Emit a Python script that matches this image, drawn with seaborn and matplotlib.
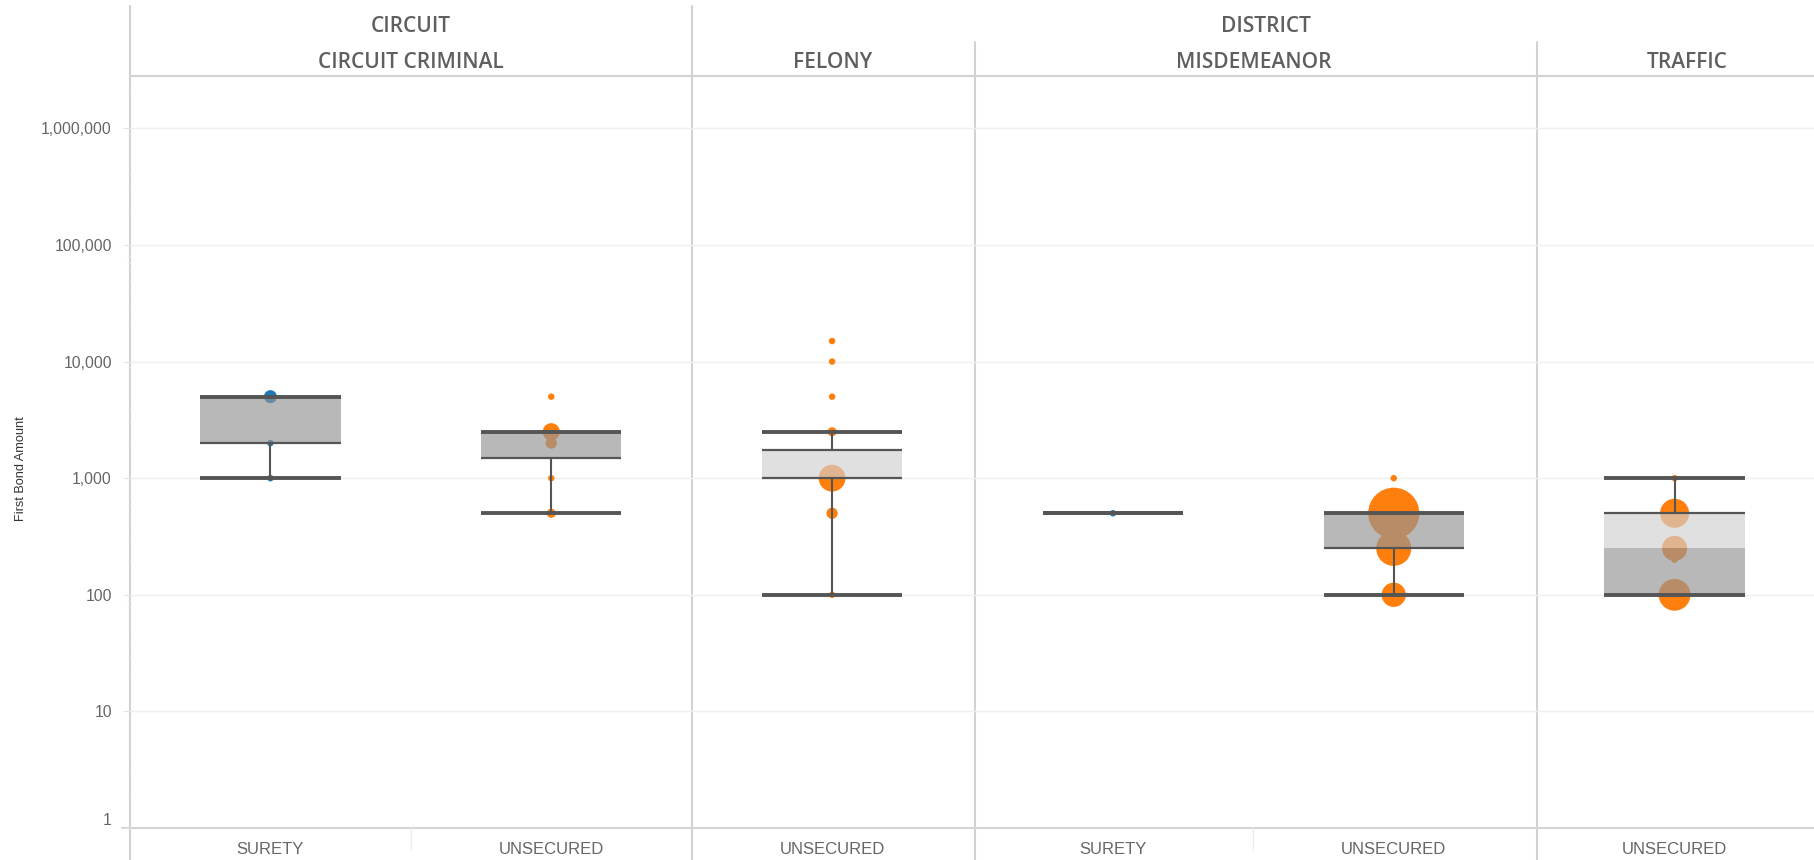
import numpy as np
import pandas as pd
import matplotlib
matplotlib.use("Agg")
import matplotlib.pyplot as plt
from matplotlib.lines import Line2D
from matplotlib.ticker import FixedLocator, NullFormatter, LogLocator
import seaborn as sns

# ---------------- data ----------------
categories = ["SURETY", "UNSECURED", "UNSECURED", "SURETY", "UNSECURED", "UNSECURED"]
cat_panel = [0, 0, 1, 2, 2, 3]
panel_names = ["CIRCUIT CRIMINAL", "FELONY", "MISDEMEANOR", "TRAFFIC"]
group_names = ["CIRCUIT", "DISTRICT"]
panel_group = [0, 1, 1, 1]

# box statistics per category
q1 = [2000, 1500, 1000, 500, 250, 100]
med = [5000, 2500, 1000, 500, 500, 250]
q3 = [5000, 2500, 1750, 500, 500, 500]
whis_lo = [1000, 500, 100, 500, 100, 100]
whis_hi = [5000, 2500, 2500, 500, 500, 1000]

# individual points (category index, amount, number of cases)
pt_cat = [0, 0, 0,
          1, 1, 1, 1, 1,
          2, 2, 2, 2, 2, 2, 2,
          3,
          4, 4, 4, 4,
          5, 5, 5, 5, 5]
pt_amount = [5000, 2000, 1000,
             5000, 2500, 2000, 1000, 500,
             15000, 10000, 5000, 2500, 1000, 500, 100,
             500,
             1000, 500, 250, 100,
             1000, 500, 250, 200, 100]
pt_count = [4, 1, 1,
            1, 7, 3, 1, 2,
            1, 1, 1, 2, 17, 3, 1,
            1,
            1, 62, 29, 14,
            1, 20, 15, 1, 24]

y_ticks = [1, 10, 100, 1000, 10000, 100000, 1000000]
y_label = "First Bond Amount"

# ---------------- styling ----------------
W, H = 1815, 860
sns.set_theme(style="white")
plt.rcParams["font.family"] = ["Liberation Sans", "DejaVu Sans"]

BLUE = "#1f77b4"
ORANGE = "#ff7f0e"
LINE = "#555555"
DIV = "#d2d2d2"
TXT = "#666666"

fig = plt.figure(figsize=(W / 100, H / 100), dpi=100)
fig.patch.set_facecolor("white")

L, R, T, B = 130, 1815, 76, 828
ax = fig.add_axes([L / W, (H - B) / H, (R - L) / W, (B - T) / H])
ax.patch.set_visible(False)
for s in ax.spines.values():
    s.set_visible(False)

ov = fig.add_axes([0, 0, 1, 1], zorder=-1)
ov.set_xlim(0, W)
ov.set_ylim(H, 0)
ov.axis("off")

# ---------------- points ----------------
df = pd.DataFrame({
    "pos": pt_cat,
    "amount": pt_amount,
    "count": pt_count,
    "bond": [categories[c] for c in pt_cat],
})
k = 21.9
sns.scatterplot(data=df, x="pos", y="amount", hue="bond",
                palette={"SURETY": BLUE, "UNSECURED": ORANGE},
                size="count", sizes=(k * 1, k * 64), size_norm=(1, 64),
                linewidth=0, legend=False, ax=ax, zorder=2)

# ---------------- boxes ----------------
pos = np.arange(len(categories))
bw = 0.5
dark_fill = (148 / 255,) * 3
light_fill = (209 / 255,) * 3
ax.bar(pos, np.array(med) - np.array(q1), bottom=q1, width=bw,
       color=dark_fill, alpha=0.66, linewidth=0, zorder=3)
ax.bar(pos, np.array(q3) - np.array(med), bottom=med, width=bw,
       color=light_fill, alpha=0.66, linewidth=0, zorder=3)
ax.vlines(pos, whis_lo, q1, color=LINE, lw=1.5, zorder=4)
ax.vlines(pos, q3, whis_hi, color=LINE, lw=1.5, zorder=4)
ax.hlines(q1, pos - bw / 2, pos + bw / 2, color=LINE, lw=1.6, zorder=4)
ax.hlines(q3, pos - bw / 2, pos + bw / 2, color=LINE, lw=1.6, zorder=4)
ax.hlines(whis_lo, pos - bw / 2, pos + bw / 2, color=LINE, lw=2.8, zorder=5)
ax.hlines(whis_hi, pos - bw / 2, pos + bw / 2, color=LINE, lw=2.8, zorder=5)

# ---------------- axes ----------------
ax.set_xlim(-0.5, len(categories) - 0.5)
ax.set_yscale("log")
ax.set_ylim(1, 10 ** 6.449)
ax.yaxis.set_major_locator(FixedLocator(y_ticks))
ax.yaxis.set_minor_locator(LogLocator(base=10, subs=np.arange(2, 10)))
ax.yaxis.set_minor_formatter(NullFormatter())
ax.set_yticks(y_ticks, [f"{v:,}" for v in y_ticks])
ax.tick_params(axis="y", which="major", length=5, color="#e4e4e4", width=0.8,
               pad=8, labelsize=11.3, labelcolor=TXT, left=True)
ax.tick_params(axis="y", which="minor", length=2.5, color="#ececec", width=0.6, left=True)
ax.grid(True, axis="y", which="major", color="#efefef", lw=1.0)
ax.grid(False, axis="x")
for t in ax.get_yticklabels():
    if t.get_text() == "1":
        t.set_va("bottom")
ax.set_xticks(pos, categories)
ax.tick_params(axis="x", length=0, pad=10, labelsize=12, labelcolor=TXT)
ax.set_xlabel("")
ax.set_ylabel(y_label, fontsize=9.2, color="#333333")
ax.yaxis.set_label_coords((27 - L) / (R - L), (B - 469) / (B - T))

# ---------------- frame / header ----------------
cw = (R - L) / len(categories)


def px(d):
    return L + (d + 0.5) * cw


def vline(x, y0, y1, c=DIV, lw=1.5):
    ov.add_line(Line2D([x, x], [y0, y1], color=c, lw=lw))


def hline(y, x0, x1, c=DIV, lw=1.5):
    ov.add_line(Line2D([x0, x1], [y, y], color=c, lw=lw))


vline(L, 6, H)
hline(T, L, W)
hline(B, 122, W)

# panel boundaries
for p in range(1, len(panel_names)):
    first = cat_panel.index(p)
    new_group = panel_group[p] != panel_group[p - 1]
    top = 6 if new_group else 42
    vline(px(first - 0.5) + (0 if new_group else 2.5), top, H)

# faint dividers between categories inside the same panel
for i in range(1, len(categories)):
    if cat_panel[i] == cat_panel[i - 1]:
        vline(px(i - 0.5), B, 850, c="#ececec", lw=1.0)


# header extents (the last panel runs slightly past the visible edge)
def edge_left(i):
    return px(i - 0.5)


def edge_right(i):
    return px(i + 0.5) if i < len(categories) - 1 else W + 25


hfont = dict(family=["Open Sans", "DejaVu Sans"], fontsize=15, fontweight="semibold",
             color="#5f5f5f", ha="center", va="center")
for p, name in enumerate(panel_names):
    idx = [i for i, c in enumerate(cat_panel) if c == p]
    cx = (edge_left(idx[0]) + edge_right(idx[-1])) / 2
    ov.text(cx, 63, name, **hfont)
for g, name in enumerate(group_names):
    idx = [i for i, c in enumerate(cat_panel) if panel_group[c] == g]
    cx = (edge_left(idx[0]) + edge_right(idx[-1])) / 2
    ov.text(cx, 27, name, **hfont)

fig.savefig("out.png", dpi=100, facecolor="white")
